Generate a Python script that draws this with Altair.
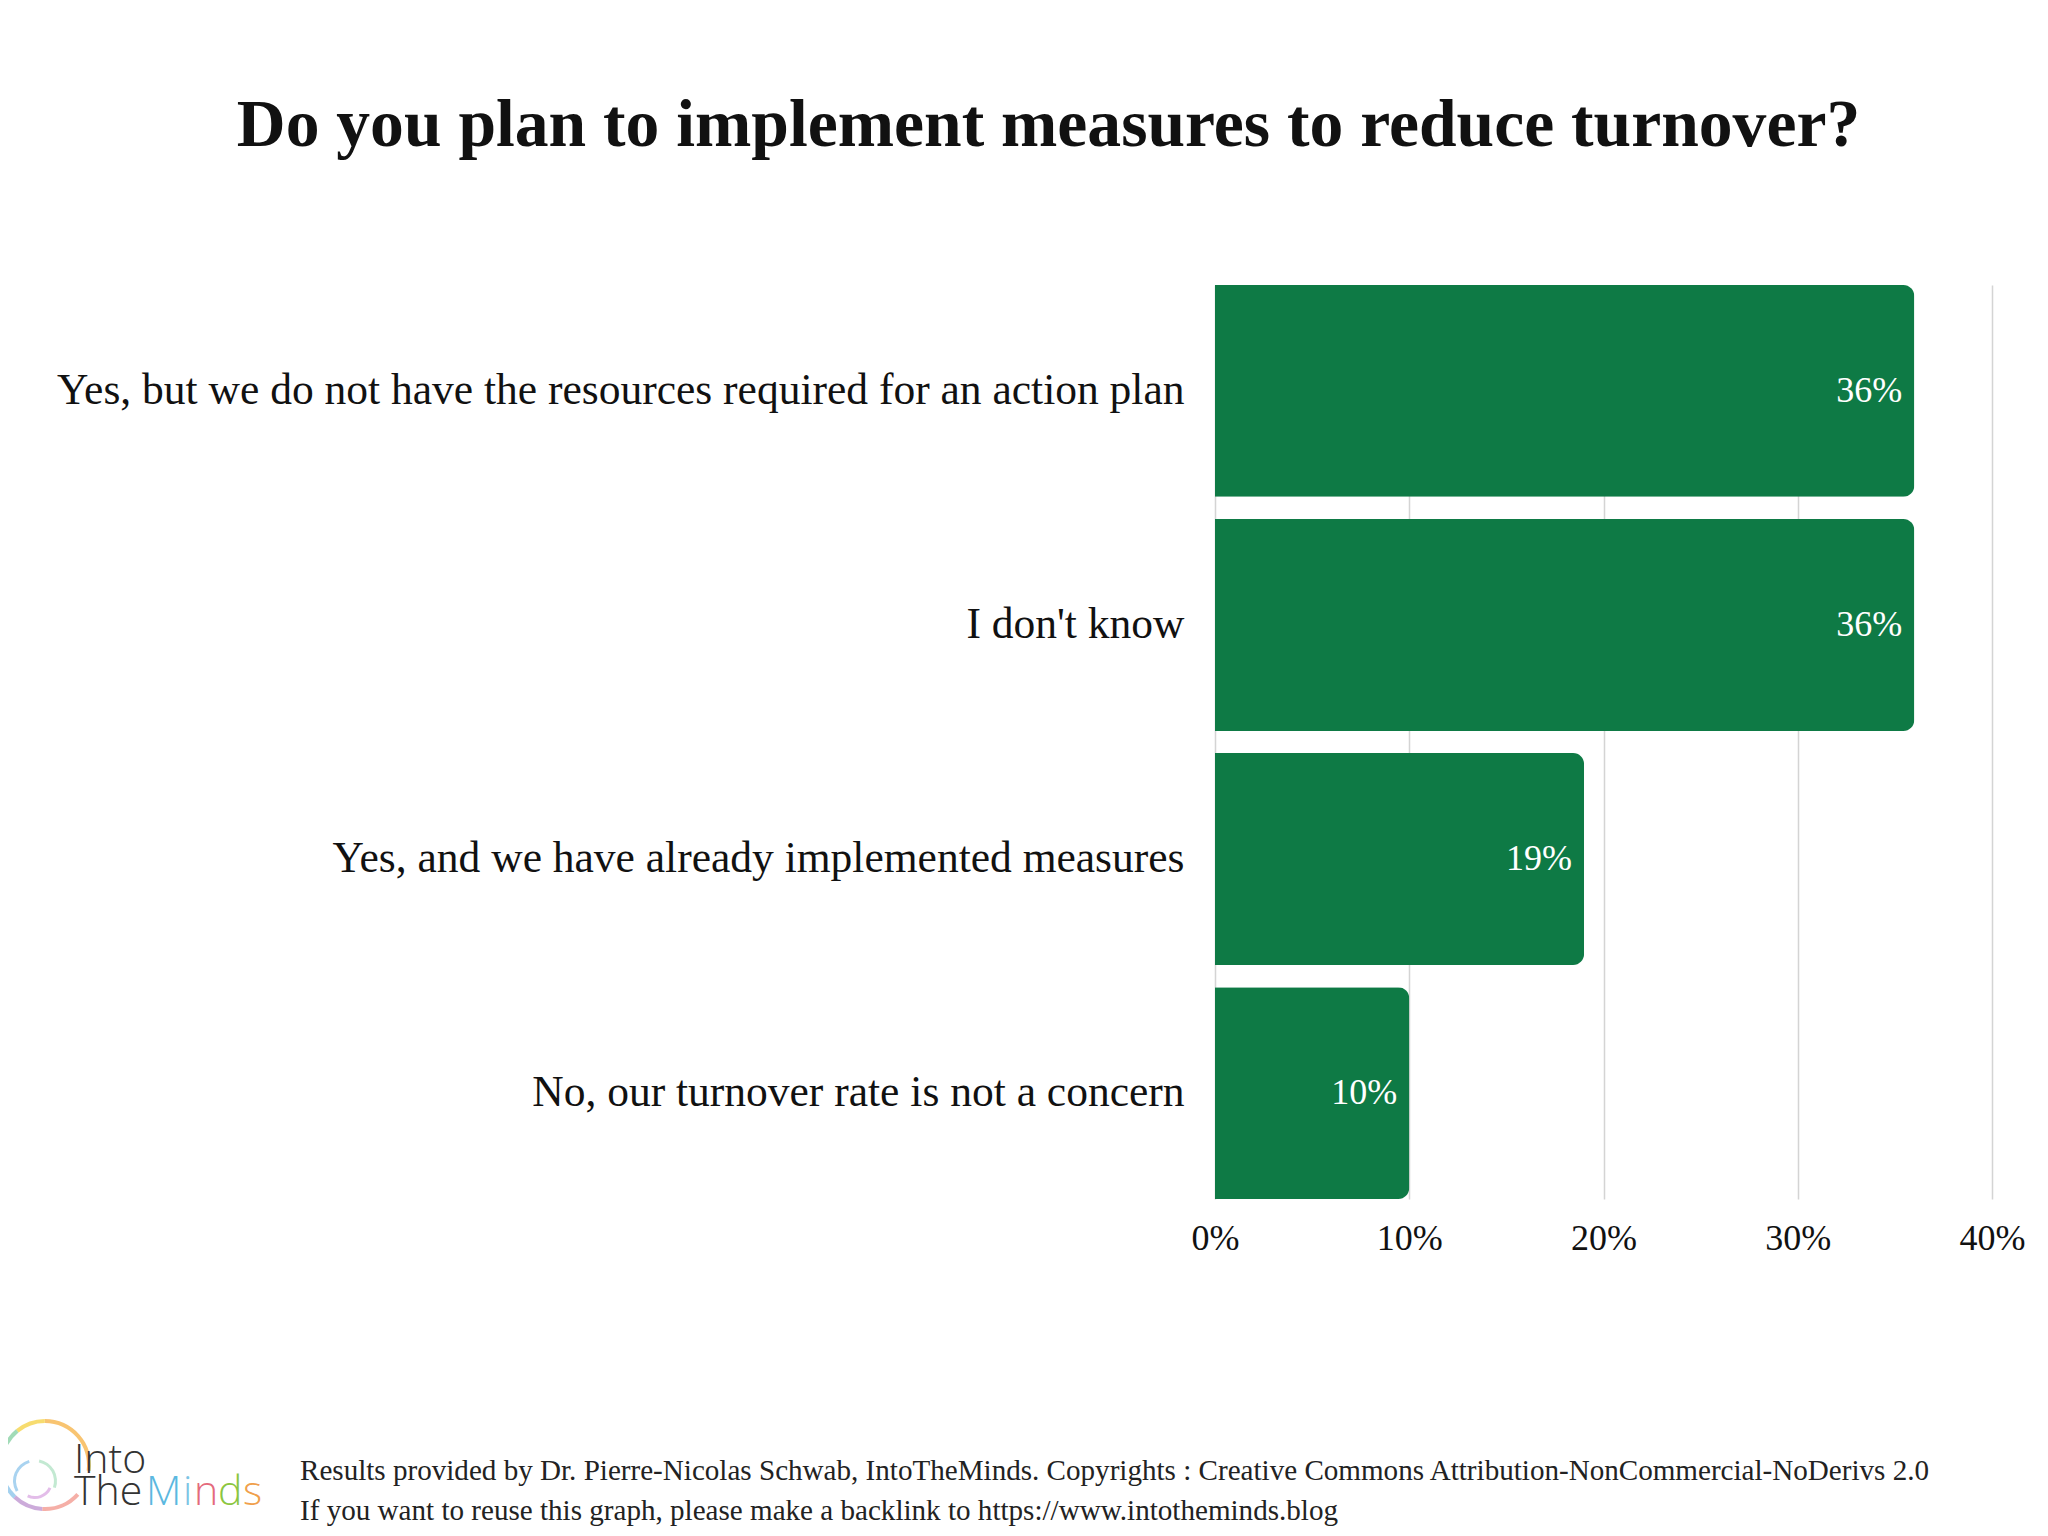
import altair as alt
import pandas as pd

categories = [
    "Yes, but we do not have the resources required for an action plan",
    "I don't know",
    "Yes, and we have already implemented measures",
    "No, our turnover rate is not a concern",
]
values = [36, 36, 19, 10]
x_ticks = [0, 10, 20, 30, 40]
title_text = "Do you plan to implement measures to reduce turnover?"
footer_lines = [
    "Results provided by Dr. Pierre-Nicolas Schwab, IntoTheMinds. Copyrights : Creative Commons Attribution-NonCommercial-NoDerivs 2.0",
    "If you want to reuse this graph, please make a backlink to https://www.intotheminds.blog",
]
logo_letters = ["M", "i", "n", "d", "s"]
logo_colors = ["#5bb8e0", "#7cc4e4", "#e46a7c", "#8cc63f", "#f0a04b"]
# decorative brain outline of the logo: (theta, theta2, radius, colour)
brain_arcs = [
    (0.0, 1.7, 46, "#f5b041"),
    (5.6, 6.28, 46, "#f4d03f"),
    (4.6, 5.6, 46, "#82cf9f"),
    (3.9, 4.6, 46, "#85c1e9"),
    (3.2, 3.9, 46, "#bb8fce"),
    (2.3, 3.2, 46, "#f1948a"),
]
brain_loops = [
    (4.2, 6.0, 22, "#85c1e9"),
    (0.2, 1.9, 22, "#a9dfbf"),
    (2.0, 3.6, 18, "#d7a1e0"),
]

df = pd.DataFrame({"category": categories, "value": values})
df["label"] = df["value"].astype(str) + "%"
one = pd.DataFrame({"k": [0]})

SERIF = "Liberation Serif"
GREEN = "#0e7a45"

y_enc = alt.Y(
    "category:N",
    sort=None,
    title=None,
    scale=alt.Scale(paddingInner=0.095, paddingOuter=0),
    axis=alt.Axis(
        domain=False, ticks=False, labelPadding=31, labelFontSize=43.5,
        labelFont=SERIF, labelColor="#111111", labelLimit=1300, grid=False,
    ),
)
x_enc = alt.X(
    "value:Q",
    title=None,
    scale=alt.Scale(domain=[0, 40], nice=False),
    axis=alt.Axis(
        values=x_ticks, labelExpr="datum.value + '%'", domain=False, ticks=False,
        grid=True, gridColor="#d4d4d4", gridWidth=1.5, labelFontSize=36,
        labelFont=SERIF, labelColor="#111111", labelPadding=22, labelFlush=False,
    ),
)

bars = alt.Chart(df).mark_bar(color=GREEN, cornerRadiusEnd=11).encode(x=x_enc, y=y_enc)
labels = alt.Chart(df).mark_text(
    align="right", baseline="middle", dx=-12, color="white", fontSize=36, font=SERIF
).encode(x="value:Q", y=alt.Y("category:N", sort=None), text="label:N")

# page coords -> chart coords: origin of plot at page (1215, 285)
OX, OY = 1222, 286
FOOT_FONT = "Liberation Serif"
footer1 = alt.Chart(one).mark_text(
    align="left", baseline="middle", fontSize=29.1, font=FOOT_FONT, color="#222222",
    text=footer_lines[0],
).encode(x=alt.value(307 - OX), y=alt.value(1472 - OY))
footer2 = alt.Chart(one).mark_text(
    align="left", baseline="middle", fontSize=29.1, font=FOOT_FONT, color="#222222",
    text=footer_lines[1],
).encode(x=alt.value(307 - OX), y=alt.value(1512 - OY))

logo_font = "Open Sans"
LS = 41
LX = 81
logo_into = alt.Chart(one).mark_text(
    align="left", baseline="alphabetic", fontSize=LS, font=logo_font, fontWeight=300,
    color="#333333", text="Into",
).encode(x=alt.value(LX - OX), y=alt.value(1474 - OY))
logo_the = alt.Chart(one).mark_text(
    align="left", baseline="alphabetic", fontSize=LS, font=logo_font, fontWeight=300,
    color="#333333", text="The",
).encode(x=alt.value(LX - OX), y=alt.value(1506 - OY))
offsets = [72, 109, 120, 144, 169]
logo_parts = []
for letter, color, off in zip(logo_letters, logo_colors, offsets):
    logo_parts.append(
        alt.Chart(one).mark_text(
            align="left", baseline="alphabetic", fontSize=LS, font=logo_font,
            fontWeight=300, color=color, text=letter,
        ).encode(x=alt.value(LX + off - OX), y=alt.value(1506 - OY))
    )

brain_layers = []
for t1, t2, r, c in brain_arcs:
    brain_layers.append(
        alt.Chart(one).mark_arc(
            theta=t1, theta2=t2, radius=r, radius2=r - 4, color=c, opacity=0.75,
        ).encode(x=alt.value(52 - OX), y=alt.value(1466 - OY))
    )
for t1, t2, r, c in brain_loops:
    brain_layers.append(
        alt.Chart(one).mark_arc(
            theta=t1, theta2=t2, radius=r, radius2=r - 3, color=c, opacity=0.7,
        ).encode(x=alt.value(42 - OX), y=alt.value(1482 - OY))
    )

chart = alt.layer(
    bars, labels, footer1, footer2, *brain_layers, logo_into, logo_the, *logo_parts
).properties(
    width=777,
    height=914,
    autosize=alt.AutoSizeParams(type="none"),
    padding={"left": 1207, "top": 277, "right": 40, "bottom": 330},
    title=alt.TitleParams(
        title_text, font=SERIF, fontSize=67.6, fontWeight="bold", color="#111111",
        anchor="middle", frame="group", dx=-555, offset=71, baseline="alphabetic",
    ),
).configure(background="white", view=alt.ViewConfig(stroke=None))

chart.save("out.html", embed_options={"renderer": "svg", "actions": False})
